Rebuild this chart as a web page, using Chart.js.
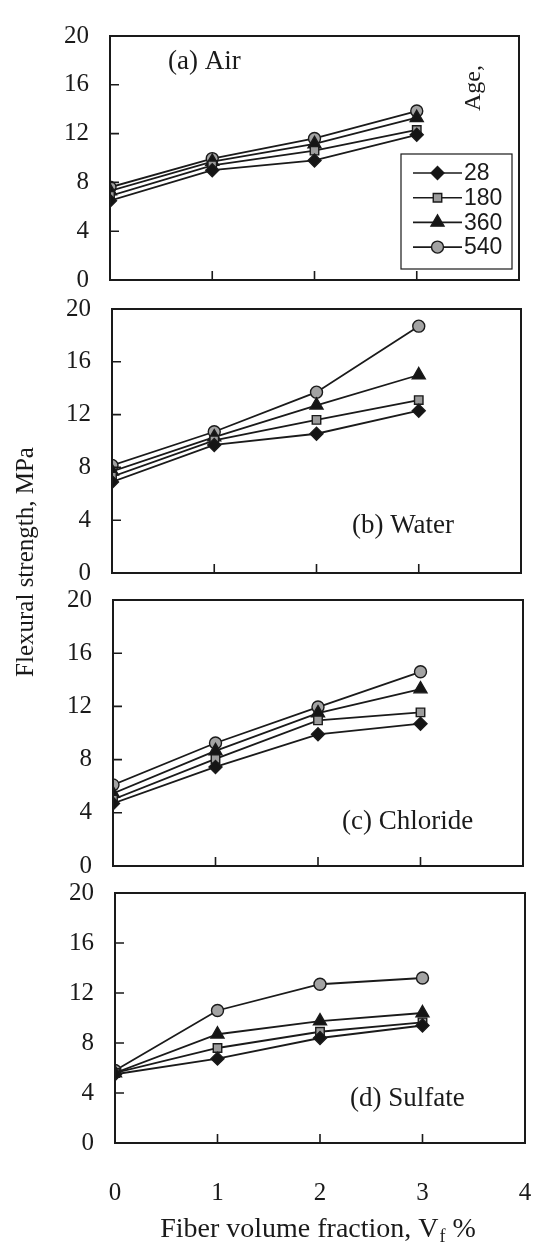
<!DOCTYPE html>
<html>
<head>
<meta charset="utf-8">
<script src="https://cdn.jsdelivr.net/npm/chart.js@4.4.1/dist/chart.umd.min.js"></script>
<style>
  html, body { margin: 0; padding: 0; background: #fff; }
  #wrap { position: relative; width: 535px; height: 1248px; }
  #wrap canvas { position: absolute; left: 0; top: 0; }
</style>
</head>
<body>
<div id="wrap">
  <canvas id="panelA" width="535" height="1248"></canvas>
  <canvas id="panelB" width="535" height="1248"></canvas>
  <canvas id="panelC" width="535" height="1248"></canvas>
  <canvas id="panelD" width="535" height="1248"></canvas>
</div>
<script>
// fiber volume fraction, % (x values)
const fiberVolume = [0, 1, 2, 3];
// curing age, days
const ageLabels = ['28', '180', '360', '540'];
const yTicks = [0, 4, 8, 12, 16, 20];
const xTicks = [0, 1, 2, 3, 4];

// flexural strength, MPa
const air28 = [6.5, 9.0, 9.8, 11.9];
const air180 = [6.9, 9.4, 10.6, 12.3];
const air360 = [7.3, 9.7, 11.15, 13.3];
const air540 = [7.6, 9.95, 11.6, 13.85];

const water28 = [6.9, 9.7, 10.55, 12.3];
const water180 = [7.3, 10.05, 11.6, 13.1];
const water360 = [7.7, 10.3, 12.7, 15.0];
const water540 = [8.15, 10.7, 13.7, 18.7];

const chloride28 = [4.7, 7.45, 9.9, 10.7];
const chloride180 = [5.0, 8.05, 10.95, 11.55];
const chloride360 = [5.45, 8.65, 11.5, 13.3];
const chloride540 = [6.1, 9.25, 11.95, 14.6];

const sulfate28 = [5.5, 6.75, 8.4, 9.4];
const sulfate180 = [5.6, 7.6, 8.9, 9.65];
const sulfate360 = [5.6, 8.7, 9.75, 10.4];
const sulfate540 = [5.8, 10.6, 12.7, 13.2];

const W = 535, H = 1248;
const SERIF = "'Liberation Serif', 'Times New Roman', serif";
const SANS = "'Liberation Sans', Arial, sans-serif";
const INK = '#1a1a1a';

const pointStyles = ['rectRot', 'rect', 'triangle', 'circle'];
const markerFills = ['#151515', '#9c9c9c', '#151515', '#a3a3a3'];
const markerRadius = [6.5, 6, 7.5, 6];

function markerOpts(i) {
  return {pointStyle: pointStyles[i], radius: markerRadius[i], rotation: 0, borderWidth: 1.4};
}

function drawMarker(ctx, i, x, y) {
  ctx.save();
  ctx.fillStyle = markerFills[i];
  ctx.strokeStyle = INK;
  ctx.lineWidth = 1.4;
  Chart.helpers.drawPoint(ctx, markerOpts(i), x, y);
  ctx.restore();
}

// frame, inward ticks, panel label, legend and axis titles
const panelDeco = {
  id: 'panelDeco',
  afterDraw(chart, args, opts) {
    const ctx = chart.ctx;
    const ca = chart.chartArea;
    const xs = chart.scales.x, ys = chart.scales.y;
    ctx.save();
    ctx.strokeStyle = INK;
    ctx.lineWidth = 2;
    ctx.strokeRect(ca.left, ca.top, ca.right - ca.left, ca.bottom - ca.top);
    ctx.lineWidth = 1.6;
    ctx.beginPath();
    yTicks.slice(1, -1).forEach(v => {
      const py = ys.getPixelForValue(v);
      ctx.moveTo(ca.left, py); ctx.lineTo(ca.left + 9, py);
    });
    xTicks.slice(1, -1).forEach(v => {
      const px = xs.getPixelForValue(v);
      ctx.moveTo(px, ca.bottom); ctx.lineTo(px, ca.bottom - 9);
    });
    ctx.stroke();

    ctx.fillStyle = INK;
    ctx.font = '27px ' + SERIF;
    ctx.textBaseline = 'middle';
    ctx.textAlign = 'left';
    ctx.fillText(opts.label, opts.labelX, opts.labelY);

    if (opts.legend) {
      const lg = opts.legend;
      ctx.lineWidth = 1.2;
      ctx.strokeRect(lg.left, lg.top, lg.right - lg.left, lg.bottom - lg.top);
      ctx.font = '23px ' + SANS;
      ageLabels.forEach((lab, i) => {
        const ry = lg.firstRow + i * lg.rowGap;
        ctx.lineWidth = 1.6;
        ctx.beginPath();
        ctx.moveTo(lg.lineStart, ry); ctx.lineTo(lg.lineEnd, ry);
        ctx.stroke();
        drawMarker(ctx, i, (lg.lineStart + lg.lineEnd) / 2, ry);
        ctx.fillStyle = INK;
        ctx.fillText(lab, lg.lineEnd + 2, ry + 1);
      });
      ctx.save();
      ctx.translate(lg.ageX, lg.ageY);
      ctx.rotate(-Math.PI / 2);
      ctx.font = '24px ' + SERIF;
      ctx.textAlign = 'center';
      ctx.fillText('Age,', 0, 0);
      ctx.restore();
    }

    if (opts.axisTitles) {
      // y title
      ctx.save();
      ctx.translate(26, 562);
      ctx.rotate(-Math.PI / 2);
      ctx.font = '25px ' + SERIF;
      ctx.textAlign = 'center';
      ctx.fillText('Flexural strength, MPa', 0, 0);
      ctx.restore();
      // x title with subscript f
      const main = 'Fiber volume fraction, V';
      const tail = ' %';
      ctx.font = '28px ' + SERIF;
      const wMain = ctx.measureText(main).width;
      const wTail = ctx.measureText(tail).width;
      ctx.font = '18px ' + SERIF;
      const wSub = ctx.measureText('f').width;
      const total = wMain + wSub + wTail + 1;
      const x0 = 318 - total / 2;
      const base = 1237;
      ctx.textAlign = 'left';
      ctx.textBaseline = 'alphabetic';
      ctx.font = '28px ' + SERIF;
      ctx.fillText(main, x0, base);
      ctx.font = '18px ' + SERIF;
      ctx.fillText('f', x0 + wMain + 1, base + 5);
      ctx.font = '28px ' + SERIF;
      ctx.fillText(tail, x0 + wMain + wSub + 1, base);
    }
    ctx.restore();
  }
};

function makePanel(canvasId, box, series, deco) {
  const xSpace = deco.showX ? H - box.bottom : 0;
  return new Chart(document.getElementById(canvasId), {
    type: 'line',
    data: {
      datasets: series.map((vals, i) => ({
        label: ageLabels[i],
        data: vals.map((v, j) => ({x: fiberVolume[j], y: v})),
        borderColor: INK,
        borderWidth: 1.8,
        tension: 0,
        fill: false,
        pointStyle: pointStyles[i],
        pointRadius: markerRadius[i],
        pointBackgroundColor: markerFills[i],
        pointBorderColor: INK,
        pointBorderWidth: 1.4
      }))
    },
    options: {
      responsive: false,
      animation: false,
      events: [],
      layout: {
        padding: {top: box.top, left: 0, right: W - box.right, bottom: H - box.bottom - xSpace}
      },
      plugins: {
        legend: {display: false},
        tooltip: {enabled: false},
        panelDeco: deco
      },
      scales: {
        x: {
          type: 'linear',
          min: 0,
          max: 4,
          display: !!deco.showX,
          afterFit: (s) => {
            s.height = xSpace;
            s.paddingLeft = 0;
            s.paddingRight = 0;
          },
          grid: {display: false, drawTicks: false},
          border: {display: false},
          ticks: {
            stepSize: 1,
            padding: 35,
            color: INK,
            font: {family: SERIF, size: 25}
          }
        },
        y: {
          type: 'linear',
          min: 0,
          max: 20,
          afterFit: (s) => { s.width = box.left; },
          grid: {display: false, drawTicks: false},
          border: {display: false},
          ticks: {
            stepSize: 4,
            padding: 21,
            color: INK,
            font: {family: SERIF, size: 25}
          }
        }
      }
    },
    plugins: [panelDeco]
  });
}

makePanel('panelA', {left: 110, right: 519, top: 17, bottom: 280},
  [air28, air180, air360, air540],
  {label: '(a) Air', labelX: 168, labelY: 62,
   legend: {left: 401, right: 512, top: 154, bottom: 269, firstRow: 173, rowGap: 24.7,
            lineStart: 413, lineEnd: 462, ageX: 474, ageY: 88}});

makePanel('panelB', {left: 112, right: 521, top: 309, bottom: 573},
  [water28, water180, water360, water540],
  {label: '(b) Water', labelX: 352, labelY: 526});

makePanel('panelC', {left: 113, right: 523, top: 600, bottom: 866},
  [chloride28, chloride180, chloride360, chloride540],
  {label: '(c) Chloride', labelX: 342, labelY: 822});

makePanel('panelD', {left: 115, right: 525, top: 893, bottom: 1143},
  [sulfate28, sulfate180, sulfate360, sulfate540],
  {label: '(d) Sulfate', labelX: 350, labelY: 1099, showX: true, axisTitles: true});
</script>
</body>
</html>
